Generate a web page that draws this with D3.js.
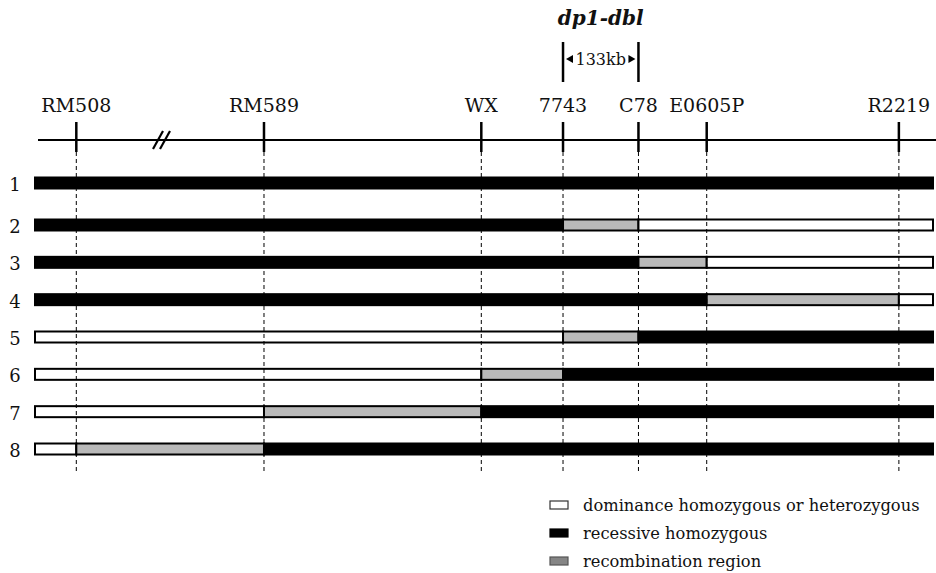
<!DOCTYPE html>
<html>
<head>
<meta charset="utf-8">
<script src="https://cdn.jsdelivr.net/npm/d3@7"></script>
<style>
  html, body { margin: 0; padding: 0; background: #fff; }
  svg { display: block; }
  text { font-family: "DejaVu Serif", "Liberation Serif", serif; fill: #111; }
</style>
</head>
<body>
<svg id="chart" width="936" height="573"></svg>
<script>
// ---- data ----
const markers   = ["RM508", "RM589", "WX", "7743", "C78", "E0605P", "R2219"];
const markerPos = [4.6, 25.5, 49.7, 58.8, 67.2, 74.8, 96.2];   // map units (0 = bar start, 100 = bar end)
const rows      = [1, 2, 3, 4, 5, 6, 7, 8];
// boundaries (marker names) between genotype blocks, and block states, left to right
const rowBreaks = [
  [],
  ["7743", "C78"],
  ["C78", "E0605P"],
  ["E0605P", "R2219"],
  ["7743", "C78"],
  ["WX", "7743"],
  ["RM589", "WX"],
  ["RM508", "RM589"]
];
const rowStates = [
  ["rec"],
  ["rec", "recomb", "dom"],
  ["rec", "recomb", "dom"],
  ["rec", "recomb", "dom"],
  ["dom", "recomb", "rec"],
  ["dom", "recomb", "rec"],
  ["dom", "recomb", "rec"],
  ["dom", "recomb", "rec"]
];
const geneName   = "dp1-dbl";
const geneLeft   = "7743";
const geneRight  = "C78";
const geneLength = "133kb";
const legendKeys   = ["dom", "rec", "recomb"];
const legendLabels = ["dominance homozygous or heterozygous", "recessive homozygous", "recombination region"];

// ---- drawing ----
const svg = d3.select("#chart");
const x = d3.scaleLinear().domain([0, 100]).range([35, 933]);
const y = d3.scaleLinear().domain([1, 2, 8]).range([183, 225, 449]);
const posOf = Object.fromEntries(markers.map((m, i) => [m, markerPos[i]]));

const fillOf   = { dom: "#ffffff", rec: "#000000", recomb: "#b9b9b9" };
const axisY = 140;

// axis line
svg.append("line")
  .attr("x1", 38).attr("x2", 936)
  .attr("y1", axisY).attr("y2", axisY)
  .attr("stroke", "#000").attr("stroke-width", 2);

// break symbol
[0, 7].forEach(d => {
  svg.append("line")
    .attr("x1", 153 + d).attr("y1", 149)
    .attr("x2", 163 + d).attr("y2", 131)
    .attr("stroke", "#000").attr("stroke-width", 2.2);
});

// marker ticks & labels
const mg = svg.append("g");
mg.selectAll("line.tick").data(markers).join("line")
  .attr("class", "tick")
  .attr("x1", d => x(posOf[d])).attr("x2", d => x(posOf[d]))
  .attr("y1", 122).attr("y2", 152)
  .attr("stroke", "#000").attr("stroke-width", 2.5);
mg.selectAll("text").data(markers).join("text")
  .attr("x", d => x(posOf[d]))
  .attr("y", 112)
  .attr("text-anchor", "middle")
  .attr("font-size", 19)
  .text(d => d);

// bars
const segs = [];
rows.forEach((r, i) => {
  const bounds = [0, ...rowBreaks[i].map(m => posOf[m]), 100];
  rowStates[i].forEach((s, j) => segs.push({ row: r, x0: bounds[j], x1: bounds[j + 1], state: s }));
});
svg.append("g").selectAll("rect").data(segs).join("rect")
  .attr("x", d => x(d.x0))
  .attr("width", d => x(d.x1) - x(d.x0))
  .attr("y", d => y(d.row) - 5.5)
  .attr("height", 11)
  .attr("fill", d => fillOf[d.state])
  .attr("stroke", "#000")
  .attr("stroke-width", 2);

// dashed guide lines
svg.append("g").selectAll("line").data(markers).join("line")
  .attr("x1", d => x(posOf[d])).attr("x2", d => x(posOf[d]))
  .attr("y1", 152).attr("y2", 472)
  .attr("stroke", "#000").attr("stroke-width", 1)
  .attr("stroke-dasharray", "4,3");

// row labels
svg.append("g").selectAll("text").data(rows).join("text")
  .attr("x", 15)
  .attr("y", d => y(d) + 8)
  .attr("text-anchor", "middle")
  .attr("font-size", 18)
  .text(d => d);

// gene annotation
const gl = x(posOf[geneLeft]), gr = x(posOf[geneRight]), gc = (gl + gr) / 2;
svg.append("text")
  .attr("x", gc).attr("y", 25)
  .attr("text-anchor", "middle")
  .attr("font-size", 20)
  .attr("font-style", "italic")
  .attr("font-weight", "bold")
  .text(geneName);
[gl, gr].forEach(px => {
  svg.append("line")
    .attr("x1", px).attr("x2", px)
    .attr("y1", 42).attr("y2", 82)
    .attr("stroke", "#000").attr("stroke-width", 2.5);
});
const ay = 59;
svg.append("path")
  .attr("d", `M${gl + 3},${ay} L${gl + 10},${ay - 4} L${gl + 10},${ay + 4} Z`)
  .attr("fill", "#000");
svg.append("path")
  .attr("d", `M${gr - 3},${ay} L${gr - 10},${ay - 4} L${gr - 10},${ay + 4} Z`)
  .attr("fill", "#000");
svg.append("text")
  .attr("x", gc).attr("y", 65)
  .attr("text-anchor", "middle")
  .attr("font-size", 16)
  .text(geneLength);

// legend
const legFill   = { dom: "#ffffff", rec: "#000000", recomb: "#858585" };
const legStroke = { dom: "#333", rec: "#000", recomb: "#555" };
const lg = svg.append("g");
legendKeys.forEach((k, i) => {
  const cy = 505 + i * 28;
  lg.append("rect")
    .attr("x", 550).attr("y", cy - 4)
    .attr("width", 18).attr("height", 8)
    .attr("fill", legFill[k]).attr("stroke", legStroke[k]).attr("stroke-width", 1.2);
  lg.append("text")
    .attr("x", 583).attr("y", cy + 6)
    .attr("font-size", 16.3)
    .text(legendLabels[i]);
});
</script>
</body>
</html>
